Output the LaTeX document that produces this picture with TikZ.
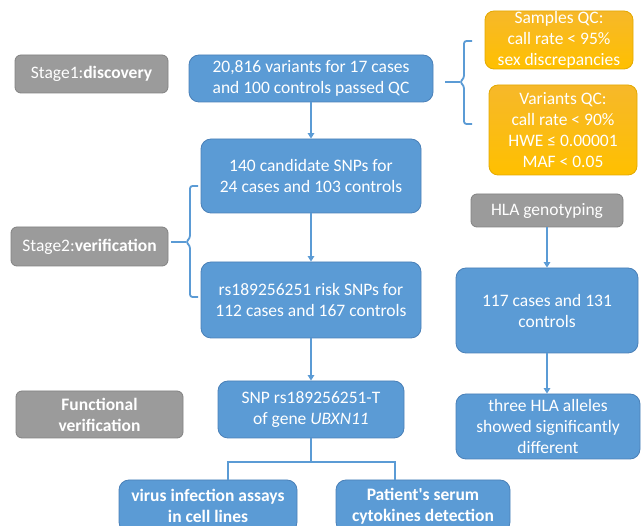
\documentclass[tikz,border=0pt]{standalone}
\usepackage{fontspec}
\setmainfont{Carlito}
\usetikzlibrary{arrows.meta}
\definecolor{boxblue}{HTML}{5B9BD5}
\definecolor{edgeblue}{HTML}{4A80B8}
\definecolor{boxgray}{HTML}{9B9B9B}
\definecolor{edgegray}{HTML}{828282}
\definecolor{qctop}{HTML}{F6B82A}
\definecolor{qcbottom}{HTML}{FFC000}
\definecolor{edgeorange}{HTML}{E3A900}

\begin{document}
\begin{tikzpicture}[x=1pt,y=-1pt,
  every node/.style={font=\fontsize{17.5}{21}\selectfont,text=white,align=center,inner sep=0pt},
  bluebox/.style={fill=boxblue,draw=edgeblue,line width=0.8pt,rounded corners=10pt},
  graybox/.style={fill=boxgray,draw=edgegray,line width=0.8pt,rounded corners=6pt},
  qcbox/.style={top color=qctop,bottom color=qcbottom,draw=edgeorange,line width=0.8pt,rounded corners=9pt},
  link/.style={draw=boxblue,line width=2pt},
  arr/.style={link,-{Triangle[width=6.5pt,length=5.5pt]}}]
  \useasboundingbox (0,0) rectangle (641,526);
  % left column: stage labels
  \node[graybox,minimum width=153pt,minimum height=38pt] (stageA) at (91.5,74) {Stage1:\textbf{discovery}};
  \node[graybox,minimum width=157pt,minimum height=39pt] (stageB) at (89.5,246.5) {Stage2:\textbf{verification}};
  \node[graybox,minimum width=167pt,minimum height=47pt] (func) at (99.5,414.5) {\textbf{Functional}\\\textbf{verification}};
  % main column
  \node[bluebox,minimum width=244pt,minimum height=47pt] (variants) at (311,78.5) {20,816 variants for 17 cases\\and 100 controls passed QC};
  \node[bluebox,minimum width=220pt,minimum height=74pt] (cand) at (311,176) {140 candidate SNPs for\\24 cases and 103 controls};
  \node[bluebox,minimum width=220pt,minimum height=76pt] (risk) at (311,300) {rs189256251 risk SNPs for\\112 cases and 167 controls};
  \node[bluebox,minimum width=186pt,minimum height=57pt] (snp) at (311,409.5) {SNP rs189256251-T\\of gene \textit{UBXN11}};
  \node[bluebox,minimum width=178pt,minimum height=52pt] (virus) at (208,506) {\textbf{virus infection assays}\\\textbf{in cell lines}};
  \node[bluebox,minimum width=174pt,minimum height=52pt] (patient) at (423,506) {\textbf{Patient\textquotesingle s serum}\\\textbf{cytokines detection}};
  % QC criteria
  \node[qcbox,minimum width=148pt,minimum height=58pt] (sampQC) at (559,40) {Samples QC:\\call rate < 95\%\\sex discrepancies};
  \node[qcbox,minimum width=148pt,minimum height=90pt] (varQC) at (563,130) {Variants QC:\\call rate < 90\%\\HWE ≤ 0.00001\\MAF < 0.05};
  % HLA column
  \node[graybox,minimum width=152pt,minimum height=33pt] (hlaG) at (547,210.5) {HLA genotyping};
  \node[bluebox,minimum width=182pt,minimum height=85pt] (hlaA) at (547,310.5) {117 cases and 131\\controls};
  \node[bluebox,minimum width=184pt,minimum height=65pt] (hlaB) at (548,426.5) {three HLA alleles\\showed significantly\\different};

  \draw[arr] (variants.south) -- (cand.north);
  \draw[arr] (cand.south) -- (risk.north);
  \draw[arr] (risk.south) -- (snp.north);
  \draw[arr] (hlaG.south) -- (hlaA.north);
  \draw[arr] (hlaA.south) -- (hlaA.south |- hlaB.north);
  % braces
  \coordinate (qctip) at (460,82);
  \coordinate (stagetip) at (186,242);
  \draw[link,line width=1.8pt,rounded corners=2.5pt] (472,41) -- (464,41) -- (464,78) -- (qctip) -- (464,86) -- (464,124) -- (472,124);
  \draw[link,line width=1.8pt] (variants.east |- qctip) ++(12,0) -- (qctip);
  \draw[link,line width=1.8pt,rounded corners=2.5pt] (198,186) -- (190,186) -- (190,238) -- (stagetip) -- (190,246) -- (190,297) -- (198,297);
  \draw[link,line width=1.8pt] (stageB.east |- stagetip) ++(3,0) -- (stagetip);
  % split to the assays
  \coordinate (fork) at (311,462);
  \draw[link] (snp.south) -- (fork);
  \draw[link] ([xshift=20pt]virus.north) |- (fork) -| ([xshift=-28pt]patient.north);
\end{tikzpicture}
\end{document}
